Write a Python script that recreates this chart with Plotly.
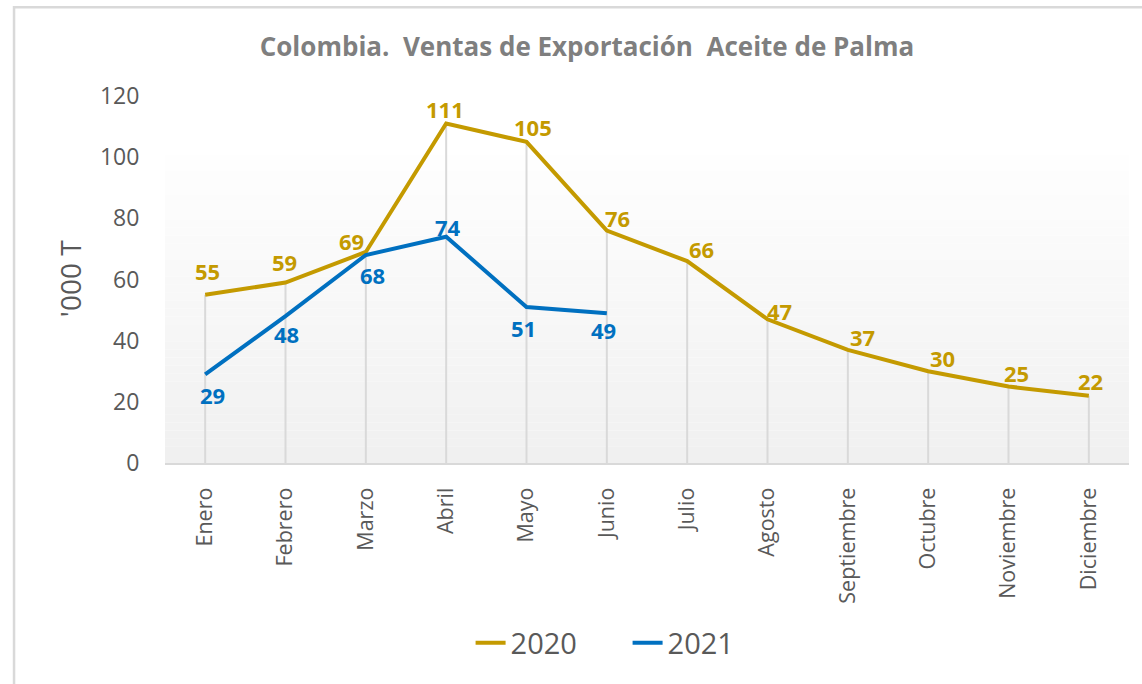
import plotly.graph_objects as go

# datos
meses = ['Enero', 'Febrero', 'Marzo', 'Abril', 'Mayo', 'Junio', 'Julio',
         'Agosto', 'Septiembre', 'Octubre', 'Noviembre', 'Diciembre']
ventas_2020 = [55, 59, 69, 111, 105, 76, 66, 47, 37, 30, 25, 22]
ventas_2021 = [29, 48, 68, 74, 51, 49]

# desplazamiento de etiquetas (px) como en el original
off_2020 = [(2, 24), (-1, 21), (-14, 11), (-1, 15), (6, 15), (11, 13),
            (14, 12), (12, 8), (15, 13), (14, 13), (8, 14), (2, 15)]
off_2021 = [(7, -21), (1, -18), (7, -20), (2, 10), (-3, -21), (-3, -17)]

c2020 = '#C49A00'
c2021 = '#0070C0'
gris = '#595959'
font = 'Open Sans'

# lineas de proyeccion (drop lines) hasta el eje
dx, dy = [], []
for i, m in enumerate(meses):
    vals = [ventas_2020[i]] + ([ventas_2021[i]] if i < len(ventas_2021) else [])
    dx += [m, m, None]
    dy += [0, max(vals), None]

data = []
data.append(go.Scatter(x=dx, y=dy, mode='lines', line=dict(color='#d9d9d9', width=2),
                       showlegend=False, hoverinfo='skip'))
data.append(go.Scatter(name='2020', x=meses, y=ventas_2020, mode='lines',
                       line=dict(color=c2020, width=4)))
data.append(go.Scatter(name='2021', x=meses[:len(ventas_2021)], y=ventas_2021, mode='lines',
                       line=dict(color=c2021, width=4)))

annotations = []
for serie, offs, col in [(ventas_2020, off_2020, c2020), (ventas_2021, off_2021, c2021)]:
    for i, v in enumerate(serie):
        annotations.append(dict(x=meses[i], y=v, text=str(v), showarrow=False,
                                xshift=offs[i][0], yshift=offs[i][1],
                                font=dict(family=font, size=22, color=col, weight='bold')))
annotations.append(dict(text="'000 T", xref='paper', yref='paper',
                        x=-0.0985, y=0.501, xanchor='center', yanchor='middle',
                        textangle=-90, showarrow=False,
                        font=dict(family=font, size=28, color=gris)))

# fondo degradado del area de trazado
shapes = []
n = 40
top = 0.885
for k in range(n):
    t = k / (n - 1)
    g = int(round(255 - (255 - 240) * (1 - t)))
    shapes.append(dict(type='rect', xref='x domain', yref='y domain',
                       x0=0, x1=1, y0=top * k / n, y1=top * (k + 1) / n,
                       fillcolor=f'rgb({g},{g},{g})', line=dict(width=0), layer='below'))
# marco del grafico
shapes.append(dict(type='rect', xref='paper', yref='paper',
                   x0=-0.1566, x1=1.03, y0=-0.7, y1=1.242,
                   line=dict(color='#d9d9d9', width=2.5), fillcolor='rgba(0,0,0,0)', layer='below'))

layout = go.Layout(
    width=1142, height=684,
    margin=dict(l=165, r=13, t=96, b=221),
    paper_bgcolor='white', plot_bgcolor='white',
    title=dict(text='Colombia.\u00a0 Ventas de Exportación\u00a0 Aceite de Palma',
               x=0.514, xanchor='center', y=0.931, yanchor='middle',
               font=dict(family=font, size=26, color='#7f7f7f', weight='bold')),
    xaxis=dict(type='category', range=[-0.5, 11.5], showgrid=False,
               showline=True, linecolor='#d9d9d9', linewidth=2,
               tickangle=-90, ticks='outside', ticklen=14, tickcolor='rgba(0,0,0,0)',
               tickfont=dict(family=font, size=21.5, color=gris)),
    yaxis=dict(range=[0, 120], dtick=20, showgrid=False, zeroline=False, showline=False,
               ticks='outside', ticklen=20, tickcolor='rgba(0,0,0,0)',
               tickfont=dict(family=font, size=23, color=gris)),
    legend=dict(orientation='h', x=0.317, xanchor='left', y=-0.49, yanchor='middle',
                entrywidth=112, font=dict(family=font, size=29, color=gris),
                bgcolor='rgba(0,0,0,0)'),
    annotations=annotations,
    shapes=shapes,
)

fig = go.Figure(data=data, layout=layout)
fig.write_html('out.html', config={'displayModeBar': False},
               post_script="document.body.style.margin='0';")
